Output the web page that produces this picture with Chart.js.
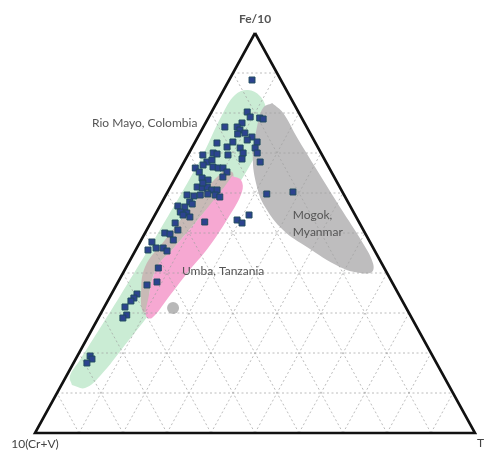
<!DOCTYPE html>
<html>
<head>
<meta charset="utf-8">
<script src="https://cdn.jsdelivr.net/npm/chart.js@4/dist/chart.umd.min.js"></script>
<style>
  html, body { margin: 0; padding: 0; background: #fff; }
  #wrap { width: 484px; height: 453px; position: relative; }
</style>
</head>
<body>
<div id="wrap"><canvas id="c" width="484" height="453"></canvas></div>
<script>
// ---------- DATA (ternary percentages: Fe/10, Ti; 10(Cr+V) = remainder) ----------
const vertexLabels = ["Fe/10", "10(Cr+V)", "Ti"];
const gridTicks = [10, 20, 30, 40, 50, 60, 70, 80, 90];

// Sample points (Rio Mayo, Colombia analyses)
const sampleFe = [88.25, 80.25, 79, 78.75, 78.5, 77.5, 76.5, 76.5, 75.75, 75, 74.75, 74, 72.75, 72.5, 72.75, 73.25,
  71.25, 71.25, 70, 70, 68.5, 67.75, 71.5, 70, 69.5, 69.75, 69.5, 67.75, 68.25, 67, 66.5, 66.25, 66.25, 66.25,
  65.25, 65.25, 64, 63.75, 63.25, 61.5, 61.25, 61.5, 60.75, 60.75, 62.5, 59.5, 59.25, 59.5, 59.75, 59.5, 59,
  57.75, 56.75, 56.5, 57.25, 55.25, 55, 54, 54.5, 52.75, 52.5, 50.75, 50, 49.75, 48.25, 47.75, 45.75, 46.25,
  46.25, 45.5, 41.25, 37.75, 37, 34.75, 33.75, 33, 31.5, 29.5, 28.75, 19.25, 18.5, 17.5, 59.75, 60.25, 54.5,
  53.25, 52.5];
const sampleTi = [5.2, 8.1, 9.4, 11.7, 12.6, 8.3, 7.7, 4.9, 8.7, 10.2, 8.7, 12.3, 8.6, 5.1, 14.1, 11.6,
  14.4, 11.0, 15.5, 12.3, 12.8, 17.3, 7.9, 5.5, 3.4, 6.5, 9.1, 5.2, 6.1, 4.7, 7.2, 8.5, 9.6, 3.3,
  4.7, 11.0, 10.7, 6.1, 7.7, 6.1, 7.4, 8.4, 9.8, 11.0, 6.9, 4.8, 6.5, 7.8, 9.4, 11.2, 12.5,
  6.3, 4.1, 5.8, 7.1, 5.4, 7.0, 8.2, 6.4, 12.2, 5.6, 7.1, 4.5, 5.8, 7.3, 2.7, 2.8, 4.4,
  6.0, 7.25, 7.4, 8.85, 6.95, 5.8, 5.6, 5.3, 4.7, 6.1, 5.6, 2.9, 3.7, 3.05, 22.8, 28.5, 21.4,
  19.3, 20.8];

// Field outlines
const rioMayoFe = [12, 14.25, 18.25, 34.25, 50.75, 68.25, 79.5, 84.5, 85.75, 84.25, 80.75, 73.25, 67, 57, 45.75, 33.25, 22, 14.25, 11.25];
const rioMayoTi = [2.4, 0.8, 1.1, 2.2, 3.0, 3.4, 2.75, 3.2, 5.5, 9.0, 12.1, 15.0, 15.4, 14.7, 13.5, 11.8, 9.45, 7.65, 5.75];

const overlapFe = [65.25, 65.25, 63.25, 54, 45.75, 41.5, 35.75, 30.75, 30.25, 34.5, 41.5, 48.25, 54, 60.75];
const overlapTi = [9.9, 12.2, 13.15, 10.5, 8.25, 6.95, 8.2, 10.3, 9.4, 6.85, 4.25, 5.4, 6.6, 8.2];

const umbaFe = [64.25, 63.25, 60.25, 53.75, 46.25, 40.25, 33.75, 28.75, 29.25, 33.25, 41.5, 45.75, 54, 61.75];
const umbaTi = [12.65, 15.2, 16.9, 17.0, 16.2, 14.65, 13.35, 12.2, 10.6, 9.05, 6.95, 8.25, 10.5, 12.3];

const mogokFe = [82.5, 80, 74, 65.75, 56.5, 47.5, 42.5, 40.25, 40, 41.5, 46.5, 50.75, 56.5, 61.5, 69, 76.5, 81.25];
const mogokTi = [12.65, 16.4, 22.5, 31.2, 41.05, 50.75, 55.55, 56.45, 53.9, 48.55, 38.55, 31.0, 24.05, 19.7, 15.0, 12.2, 11.2];

const blobFe = [31.25];
const blobTi = [15.75];

const fieldLabels = ["Rio Mayo, Colombia", "Umba, Tanzania", "Mogok,", "Myanmar"];

// ---------- helpers ----------
function toXY(fe, ti) { return { x: (ti + fe / 2) / 100, y: fe / 100 }; }
function series(feArr, tiArr, close) {
  const pts = feArr.map((f, i) => toXY(f, tiArr[i]));
  if (close) pts.push(pts[0]);
  return pts;
}

const datasets = [];

// points (top)
datasets.push({
  data: series(sampleFe, sampleTi, false),
  pointStyle: 'rect', pointRadius: 4.2,
  backgroundColor: '#2c438f', borderColor: '#1f4a5e', borderWidth: 1,
  showLine: false, order: 0, clip: false
});

// triangle frame
datasets.push({
  data: [toXY(100, 0), toXY(0, 0), toXY(0, 100), toXY(100, 0)],
  showLine: true, borderColor: '#111', borderWidth: 2.6, pointRadius: 0,
  borderJoinStyle: 'miter', fill: false, order: 1, clip: false
});

// grid lines
const gridStyle = { showLine: true, borderColor: 'rgba(160,160,160,0.7)', borderWidth: 1,
  borderDash: [2, 2.5], pointRadius: 0, fill: false, order: 2, clip: false };
gridTicks.forEach(k => {
  datasets.push(Object.assign({ data: [toXY(k, 0), toXY(k, 100 - k)] }, gridStyle));
  datasets.push(Object.assign({ data: [toXY(0, k), toXY(100 - k, k)] }, gridStyle));
  datasets.push(Object.assign({ data: [toXY(0, 100 - k), toXY(100 - k, 0)] }, gridStyle));
});

// fields
const fieldStyle = { showLine: true, pointRadius: 0, borderWidth: 0, tension: 0.4, fill: 'shape', clip: false };
datasets.push(Object.assign({ data: series(umbaFe, umbaTi, true), backgroundColor: 'rgba(246,168,210,1)', borderColor: 'rgba(0,0,0,0)', order: 3 }, fieldStyle));
datasets.push(Object.assign({ data: series(overlapFe, overlapTi, true), backgroundColor: 'rgba(200,186,182,1)', borderColor: 'rgba(0,0,0,0)', order: 4 }, fieldStyle));
datasets.push(Object.assign({ data: series(mogokFe, mogokTi, true), backgroundColor: 'rgba(190,189,190,1)', borderColor: 'rgba(0,0,0,0)', order: 5 }, fieldStyle));
datasets.push(Object.assign({ data: series(rioMayoFe, rioMayoTi, true), backgroundColor: 'rgba(202,236,212,1)', borderColor: 'rgba(0,0,0,0)', order: 6 }, fieldStyle));
datasets.push({ data: series(blobFe, blobTi, false), pointStyle: 'circle', pointRadius: 6,
  backgroundColor: '#b8b8b8', borderWidth: 0, showLine: false, order: 3, clip: false });

// ---------- labels plugin ----------
const labelPlugin = {
  id: 'ternaryLabels',
  afterDatasetsDraw(chart) {
    const { ctx, scales: { x, y } } = chart;
    const px = v => x.getPixelForValue(v), py = v => y.getPixelForValue(v);
    ctx.save();
    ctx.textBaseline = 'middle';
    ctx.fillStyle = '#555';
    ctx.font = 'bold 12px Lato, "Open Sans", sans-serif';
    ctx.textAlign = 'center';
    const top = toXY(100, 0), left = toXY(0, 0), right = toXY(0, 100);
    ctx.fillText(vertexLabels[0], px(top.x), py(top.y) - 14);
    ctx.font = '12px Lato, "Open Sans", sans-serif';
    ctx.fillStyle = '#444';
    ctx.fillText(vertexLabels[1], px(left.x), py(left.y) + 11);
    ctx.textAlign = 'left';
    ctx.fillText(vertexLabels[2], px(right.x) + 2, py(right.y) + 10);
    ctx.fillStyle = '#555';
    ctx.font = '12px Lato, "Open Sans", sans-serif';
    ctx.fillText(fieldLabels[0], px(0.1295), py(0.775));
    ctx.fillText(fieldLabels[1], px(0.334), py(0.405));
    ctx.fillText(fieldLabels[2], px(0.586), py(0.545));
    ctx.fillText(fieldLabels[3], px(0.586), py(0.5025));
    ctx.restore();
  }
};

new Chart(document.getElementById('c'), {
  type: 'scatter',
  data: { datasets },
  options: {
    responsive: false,
    animation: false,
    events: [],
    layout: { padding: { left: 35, right: 9, top: 33, bottom: 20 } },
    scales: {
      x: { type: 'linear', min: 0, max: 1, display: false },
      y: { type: 'linear', min: 0, max: 1, display: false }
    },
    plugins: { legend: { display: false }, tooltip: { enabled: false } }
  },
  plugins: [labelPlugin]
});
</script>
</body>
</html>
